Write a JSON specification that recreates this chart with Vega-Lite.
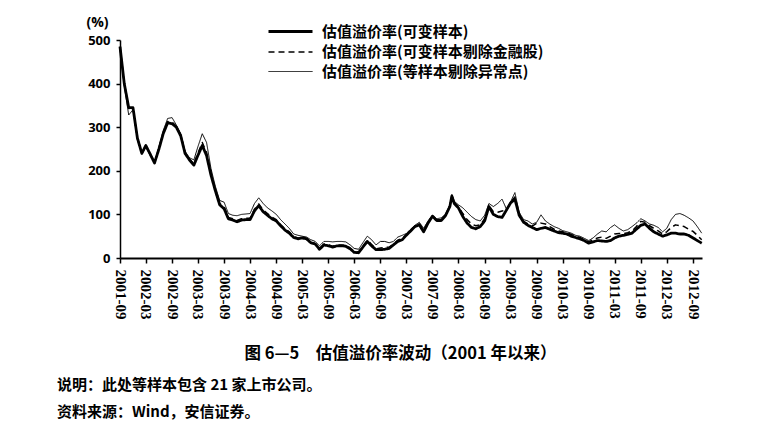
{
  "$schema": "https://vega.github.io/schema/vega-lite/v6.json",
  "width": 582,
  "height": 218,
  "autosize": "none",
  "padding": {"left": 120, "top": 40, "right": 69, "bottom": 174},
  "background": "white",
  "config": {
    "view": {"stroke": null},
    "legend": {"padding": 0}
  },
  "title": {
    "text": ["说明：此处等样本包含 21 家上市公司。", "资料来源：Wind，安信证券。"],
    "orient": "bottom",
    "anchor": "start",
    "frame": "group",
    "dx": -63,
    "offset": 16,
    "font": "Noto Sans CJK SC",
    "fontSize": 15,
    "fontWeight": "bold",
    "lineHeight": 27,
    "color": "black"
  },
  "data": {
    "values": [
      {"d": "2001-09-01", "a": 485, "b": 485, "c": 480},
      {"d": "2001-10-01", "a": 400, "b": 402, "c": 395},
      {"d": "2001-11-01", "a": 345, "b": 343, "c": 328},
      {"d": "2001-12-01", "a": 345, "b": 344, "c": 340},
      {"d": "2002-01-01", "a": 275, "b": 276, "c": 272},
      {"d": "2002-02-01", "a": 240, "b": 240, "c": 238},
      {"d": "2002-03-01", "a": 258, "b": 258, "c": 255},
      {"d": "2002-04-01", "a": 238, "b": 238, "c": 235},
      {"d": "2002-05-01", "a": 218, "b": 218, "c": 218},
      {"d": "2002-06-01", "a": 250, "b": 252, "c": 255},
      {"d": "2002-07-01", "a": 285, "b": 287, "c": 292},
      {"d": "2002-08-01", "a": 310, "b": 313, "c": 320},
      {"d": "2002-09-01", "a": 308, "b": 312, "c": 322},
      {"d": "2002-10-01", "a": 300, "b": 302, "c": 305},
      {"d": "2002-11-01", "a": 280, "b": 282, "c": 285},
      {"d": "2002-12-01", "a": 240, "b": 242, "c": 245},
      {"d": "2003-01-01", "a": 225, "b": 227, "c": 230},
      {"d": "2003-02-01", "a": 213, "b": 216, "c": 225},
      {"d": "2003-03-01", "a": 235, "b": 240, "c": 255},
      {"d": "2003-04-01", "a": 258, "b": 265, "c": 285},
      {"d": "2003-05-01", "a": 235, "b": 242, "c": 265},
      {"d": "2003-06-01", "a": 190, "b": 195, "c": 205},
      {"d": "2003-07-01", "a": 155, "b": 158, "c": 165},
      {"d": "2003-08-01", "a": 122, "b": 125, "c": 132},
      {"d": "2003-09-01", "a": 113, "b": 118, "c": 128},
      {"d": "2003-10-01", "a": 90, "b": 93, "c": 102},
      {"d": "2003-11-01", "a": 87, "b": 90, "c": 98},
      {"d": "2003-12-01", "a": 83, "b": 86, "c": 97},
      {"d": "2004-01-01", "a": 87, "b": 90, "c": 100},
      {"d": "2004-02-01", "a": 88, "b": 91, "c": 101},
      {"d": "2004-03-01", "a": 88, "b": 91, "c": 102},
      {"d": "2004-04-01", "a": 108, "b": 112, "c": 125},
      {"d": "2004-05-01", "a": 120, "b": 124, "c": 138},
      {"d": "2004-06-01", "a": 106, "b": 110, "c": 125},
      {"d": "2004-07-01", "a": 98, "b": 102, "c": 115},
      {"d": "2004-08-01", "a": 90, "b": 94, "c": 108},
      {"d": "2004-09-01", "a": 85, "b": 88, "c": 100},
      {"d": "2004-10-01", "a": 74, "b": 77, "c": 88},
      {"d": "2004-11-01", "a": 64, "b": 67, "c": 78},
      {"d": "2004-12-01", "a": 57, "b": 60, "c": 68},
      {"d": "2005-01-01", "a": 47, "b": 49, "c": 55},
      {"d": "2005-02-01", "a": 44, "b": 46, "c": 52},
      {"d": "2005-03-01", "a": 46, "b": 47, "c": 50},
      {"d": "2005-04-01", "a": 44, "b": 45, "c": 48},
      {"d": "2005-05-01", "a": 35, "b": 37, "c": 42},
      {"d": "2005-06-01", "a": 32, "b": 33, "c": 38},
      {"d": "2005-07-01", "a": 20, "b": 22, "c": 28},
      {"d": "2005-08-01", "a": 30, "b": 32, "c": 38},
      {"d": "2005-09-01", "a": 28, "b": 30, "c": 38},
      {"d": "2005-10-01", "a": 25, "b": 27, "c": 37},
      {"d": "2005-11-01", "a": 28, "b": 30, "c": 38},
      {"d": "2005-12-01", "a": 28, "b": 30, "c": 38},
      {"d": "2006-01-01", "a": 27, "b": 29, "c": 37},
      {"d": "2006-02-01", "a": 21, "b": 23, "c": 30},
      {"d": "2006-03-01", "a": 13, "b": 15, "c": 22},
      {"d": "2006-04-01", "a": 12, "b": 14, "c": 20},
      {"d": "2006-05-01", "a": 25, "b": 27, "c": 35},
      {"d": "2006-06-01", "a": 38, "b": 41, "c": 50},
      {"d": "2006-07-01", "a": 28, "b": 31, "c": 42},
      {"d": "2006-08-01", "a": 19, "b": 21, "c": 30},
      {"d": "2006-09-01", "a": 19, "b": 23, "c": 38},
      {"d": "2006-10-01", "a": 20, "b": 24, "c": 38},
      {"d": "2006-11-01", "a": 22, "b": 25, "c": 35},
      {"d": "2006-12-01", "a": 30, "b": 32, "c": 38},
      {"d": "2007-01-01", "a": 38, "b": 41, "c": 48},
      {"d": "2007-02-01", "a": 42, "b": 45, "c": 52},
      {"d": "2007-03-01", "a": 52, "b": 53, "c": 56},
      {"d": "2007-04-01", "a": 62, "b": 63, "c": 66},
      {"d": "2007-05-01", "a": 72, "b": 73, "c": 75},
      {"d": "2007-06-01", "a": 76, "b": 78, "c": 82},
      {"d": "2007-07-01", "a": 60, "b": 63, "c": 68},
      {"d": "2007-08-01", "a": 80, "b": 82, "c": 85},
      {"d": "2007-09-01", "a": 96, "b": 96, "c": 98},
      {"d": "2007-10-01", "a": 86, "b": 87, "c": 90},
      {"d": "2007-11-01", "a": 86, "b": 88, "c": 92},
      {"d": "2007-12-01", "a": 97, "b": 98, "c": 100},
      {"d": "2008-01-01", "a": 118, "b": 120, "c": 122},
      {"d": "2008-01-15", "a": 142, "b": 143, "c": 146},
      {"d": "2008-02-01", "a": 125, "b": 127, "c": 130},
      {"d": "2008-03-01", "a": 115, "b": 118, "c": 122},
      {"d": "2008-04-01", "a": 95, "b": 102, "c": 115},
      {"d": "2008-05-01", "a": 80, "b": 88, "c": 105},
      {"d": "2008-06-01", "a": 70, "b": 78, "c": 95},
      {"d": "2008-07-01", "a": 67, "b": 74, "c": 88},
      {"d": "2008-08-01", "a": 72, "b": 76, "c": 85},
      {"d": "2008-09-01", "a": 85, "b": 90, "c": 98},
      {"d": "2008-10-01", "a": 118, "b": 120, "c": 125},
      {"d": "2008-11-01", "a": 100, "b": 106, "c": 118},
      {"d": "2008-12-01", "a": 95, "b": 105, "c": 125},
      {"d": "2009-01-01", "a": 93, "b": 108, "c": 135},
      {"d": "2009-02-01", "a": 110, "b": 110, "c": 112},
      {"d": "2009-03-01", "a": 126, "b": 127, "c": 128},
      {"d": "2009-04-01", "a": 135, "b": 140, "c": 150},
      {"d": "2009-05-01", "a": 98, "b": 100, "c": 105},
      {"d": "2009-06-01", "a": 82, "b": 84, "c": 88},
      {"d": "2009-07-01", "a": 75, "b": 78, "c": 85},
      {"d": "2009-08-01", "a": 70, "b": 73, "c": 78},
      {"d": "2009-09-01", "a": 65, "b": 80, "c": 82},
      {"d": "2009-10-01", "a": 68, "b": 80, "c": 99},
      {"d": "2009-11-01", "a": 70, "b": 78, "c": 85},
      {"d": "2009-12-01", "a": 66, "b": 72, "c": 78},
      {"d": "2010-01-01", "a": 62, "b": 66, "c": 72},
      {"d": "2010-02-01", "a": 58, "b": 62, "c": 68},
      {"d": "2010-03-01", "a": 57, "b": 60, "c": 63},
      {"d": "2010-04-01", "a": 55, "b": 58, "c": 60},
      {"d": "2010-05-01", "a": 50, "b": 54, "c": 57},
      {"d": "2010-06-01", "a": 47, "b": 50, "c": 52},
      {"d": "2010-07-01", "a": 44, "b": 47, "c": 50},
      {"d": "2010-08-01", "a": 40, "b": 42, "c": 45},
      {"d": "2010-09-01", "a": 34, "b": 37, "c": 40},
      {"d": "2010-10-01", "a": 37, "b": 42, "c": 46},
      {"d": "2010-11-01", "a": 40, "b": 46, "c": 55},
      {"d": "2010-12-01", "a": 39, "b": 48, "c": 62},
      {"d": "2011-01-01", "a": 38, "b": 45, "c": 60},
      {"d": "2011-02-01", "a": 40, "b": 50, "c": 70},
      {"d": "2011-03-01", "a": 46, "b": 55, "c": 76},
      {"d": "2011-04-01", "a": 50, "b": 56, "c": 68},
      {"d": "2011-05-01", "a": 52, "b": 56, "c": 62},
      {"d": "2011-06-01", "a": 54, "b": 58, "c": 65},
      {"d": "2011-07-01", "a": 57, "b": 62, "c": 72},
      {"d": "2011-08-01", "a": 66, "b": 72, "c": 80},
      {"d": "2011-09-01", "a": 75, "b": 84, "c": 90},
      {"d": "2011-10-01", "a": 78, "b": 82, "c": 85},
      {"d": "2011-11-01", "a": 68, "b": 74, "c": 78},
      {"d": "2011-12-01", "a": 60, "b": 68, "c": 75},
      {"d": "2012-01-01", "a": 55, "b": 62, "c": 70},
      {"d": "2012-02-01", "a": 50, "b": 55, "c": 60},
      {"d": "2012-03-01", "a": 53, "b": 60, "c": 68},
      {"d": "2012-04-01", "a": 57, "b": 70, "c": 88},
      {"d": "2012-05-01", "a": 57, "b": 76, "c": 100},
      {"d": "2012-06-01", "a": 55, "b": 74, "c": 102},
      {"d": "2012-07-01", "a": 55, "b": 72, "c": 98},
      {"d": "2012-08-01", "a": 52, "b": 66, "c": 92},
      {"d": "2012-09-01", "a": 46, "b": 61, "c": 85},
      {"d": "2012-10-01", "a": 40, "b": 52, "c": 72},
      {"d": "2012-11-01", "a": 34, "b": 42, "c": 57}
    ]
  },
  "transform": [{"fold": ["a", "b", "c"], "as": ["k", "v"]}],
  "mark": {"type": "line", "color": "black", "strokeJoin": "round"},
  "encoding": {
    "x": {
      "field": "d",
      "type": "temporal",
      "scale": {
        "type": "utc",
        "domain": [
          {"year": 2001, "month": 9, "date": 1, "utc": true},
          {"year": 2012, "month": 11, "date": 3, "utc": true}
        ]
      },
      "axis": {
        "values": [
          {"year": 2001, "month": 9, "date": 1, "utc": true},
          {"year": 2002, "month": 3, "date": 1, "utc": true},
          {"year": 2002, "month": 9, "date": 1, "utc": true},
          {"year": 2003, "month": 3, "date": 1, "utc": true},
          {"year": 2003, "month": 9, "date": 1, "utc": true},
          {"year": 2004, "month": 3, "date": 1, "utc": true},
          {"year": 2004, "month": 9, "date": 1, "utc": true},
          {"year": 2005, "month": 3, "date": 1, "utc": true},
          {"year": 2005, "month": 9, "date": 1, "utc": true},
          {"year": 2006, "month": 3, "date": 1, "utc": true},
          {"year": 2006, "month": 9, "date": 1, "utc": true},
          {"year": 2007, "month": 3, "date": 1, "utc": true},
          {"year": 2007, "month": 9, "date": 1, "utc": true},
          {"year": 2008, "month": 3, "date": 1, "utc": true},
          {"year": 2008, "month": 9, "date": 1, "utc": true},
          {"year": 2009, "month": 3, "date": 1, "utc": true},
          {"year": 2009, "month": 9, "date": 1, "utc": true},
          {"year": 2010, "month": 3, "date": 1, "utc": true},
          {"year": 2010, "month": 9, "date": 1, "utc": true},
          {"year": 2011, "month": 3, "date": 1, "utc": true},
          {"year": 2011, "month": 9, "date": 1, "utc": true},
          {"year": 2012, "month": 3, "date": 1, "utc": true},
          {"year": 2012, "month": 9, "date": 1, "utc": true}
        ],
        "labelExpr": "utcFormat(datum.value, '%Y-%m')",
        "labelAngle": 90,
        "labelAlign": "left",
        "labelBaseline": "middle",
        "labelFont": "Liberation Serif",
        "labelFontSize": 15,
        "labelFontWeight": "bold",
        "labelColor": "black",
        "labelPadding": 6,
        "labelOverlap": false,
        "labelFlush": false,
        "tickSize": 5,
        "tickWidth": 1.5,
        "tickColor": "black",
        "domainColor": "black",
        "domainWidth": 2,
        "grid": false,
        "title": "图 6—5　估值溢价率波动（2001 年以来）",
        "titleFont": "Noto Sans CJK SC",
        "titleFontSize": 16.5,
        "titleFontWeight": "bold",
        "titleColor": "black",
        "titleX": 280,
        "titleY": 95,
        "titleAlign": "center",
        "titleBaseline": "middle"
      }
    },
    "y": {
      "field": "v",
      "type": "quantitative",
      "scale": {"domain": [0, 500], "nice": false},
      "axis": {
        "values": [0, 100, 200, 300, 400, 500],
        "labelFont": "Open Sans",
        "labelFontSize": 13,
        "labelFontWeight": "bold",
        "labelColor": "black",
        "labelPadding": 6,
        "tickSize": 4,
        "tickWidth": 1.5,
        "tickColor": "black",
        "domainColor": "black",
        "domainWidth": 1.5,
        "grid": false,
        "title": "(%)",
        "titleAngle": 0,
        "titleFont": "Open Sans",
        "titleFontSize": 14,
        "titleFontWeight": "bold",
        "titleColor": "black",
        "titleX": -23,
        "titleY": -18,
        "titleAlign": "center",
        "titleBaseline": "middle"
      }
    },
    "strokeDash": {
      "field": "k",
      "type": "nominal",
      "scale": {"domain": ["a", "b", "c"], "range": [[1, 0], [6, 4], [1, 0]]},
      "legend": {
        "title": null,
        "orient": "none",
        "legendX": 147,
        "legendY": -18,
        "symbolType": "M-1,0H4.5",
        "symbolSize": 256,
        "symbolStrokeColor": "black",
        "labelFont": "Noto Sans CJK SC",
        "labelFontSize": 15,
        "labelFontWeight": "bold",
        "labelColor": "black",
        "labelOffset": 36,
        "rowPadding": 3,
        "labelLimit": 400,
        "labelExpr": "datum.value == 'a' ? '估值溢价率(可变样本)' : datum.value == 'b' ? '估值溢价率(可变样本剔除金融股)' : '估值溢价率(等样本剔除异常点)'"
      }
    },
    "strokeWidth": {
      "field": "k",
      "type": "nominal",
      "scale": {"type": "ordinal", "domain": ["a", "b", "c"], "range": [2.8, 1.5, 1]},
      "legend": {
        "title": null,
        "orient": "none",
        "legendX": 147,
        "legendY": -18,
        "symbolType": "M-1,0H4.5",
        "symbolSize": 256,
        "symbolStrokeColor": "black",
        "labelFont": "Noto Sans CJK SC",
        "labelFontSize": 15,
        "labelFontWeight": "bold",
        "labelColor": "black",
        "labelOffset": 36,
        "rowPadding": 3,
        "labelLimit": 400,
        "labelExpr": "datum.value == 'a' ? '估值溢价率(可变样本)' : datum.value == 'b' ? '估值溢价率(可变样本剔除金融股)' : '估值溢价率(等样本剔除异常点)'"
      }
    }
  }
}
